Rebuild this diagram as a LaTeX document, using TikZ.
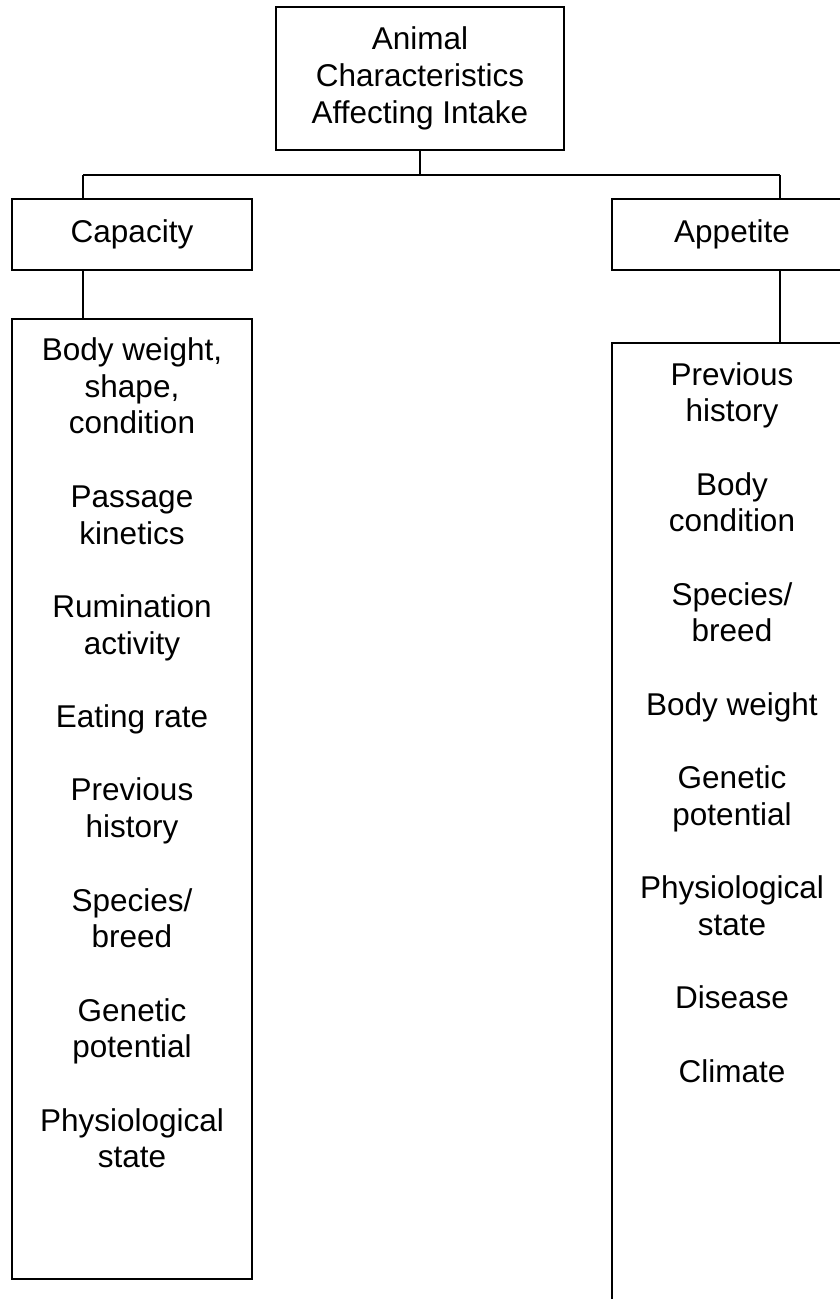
\documentclass[tikz,border=0pt]{standalone}
\usepackage{fontspec}
\setmainfont{Liberation Sans}
\begin{document}
\begin{tikzpicture}[x=1pt,y=-1pt,
  box/.style={draw, line width=1.8pt, rectangle, inner sep=0pt, align=center,
    font=\fontsize{31.5}{36.7}\selectfont},
  listtext/.style={inner sep=0pt, align=center, anchor=north,
    font=\fontsize{31.5}{36.7}\selectfont},
  link/.style={draw, line width=1.8pt}]
\useasboundingbox (0,0) rectangle (840,1299);
\clip (0,0) rectangle (840,1299);
\fill[white] (0,0) rectangle (840,1299);

% boxes
\node[box, minimum width=288pt, minimum height=143pt] (top) at (420,78.5)
  {Animal\\Characteristics\\Affecting Intake};
\node[box, minimum width=240pt, minimum height=71pt] (cap) at (132,234.5) {Capacity};
\node[box, minimum width=240pt, minimum height=71pt] (app) at (732,234.5) {Appetite};
\node[box, minimum width=240pt, minimum height=960pt] (caplist) at (132,799) {};
\node[box, minimum width=240pt, minimum height=1000pt] (applist) at (732,843) {};

% list texts
\node[listtext] (captext) at (132,337.5)
  {Body weight,\\shape,\\condition\\ \\Passage\\kinetics\\ \\Rumination\\activity\\ \\Eating rate\\ \\Previous\\history\\ \\Species/\\breed\\ \\Genetic\\potential\\ \\Physiological\\state};
\node[listtext] (apptext) at (732,362)
  {Previous\\history\\ \\Body\\condition\\ \\Species/\\breed\\ \\Body weight\\ \\Genetic\\potential\\ \\Physiological\\state\\ \\Disease\\ \\Climate};

% connectors
\coordinate (jL) at (83,175);
\coordinate (jR) at (780,175);
\draw[link] (top.south) -- (top.south |- jL);
\draw[link] (jL) -- (jR);
\draw[link] (jL) -- (jL |- cap.north);
\draw[link] (jR) -- (jR |- app.north);
\draw[link] (jL |- cap.south) -- (jL |- caplist.north);
\draw[link] (jR |- app.south) -- (jR |- applist.north);
\end{tikzpicture}
\end{document}
